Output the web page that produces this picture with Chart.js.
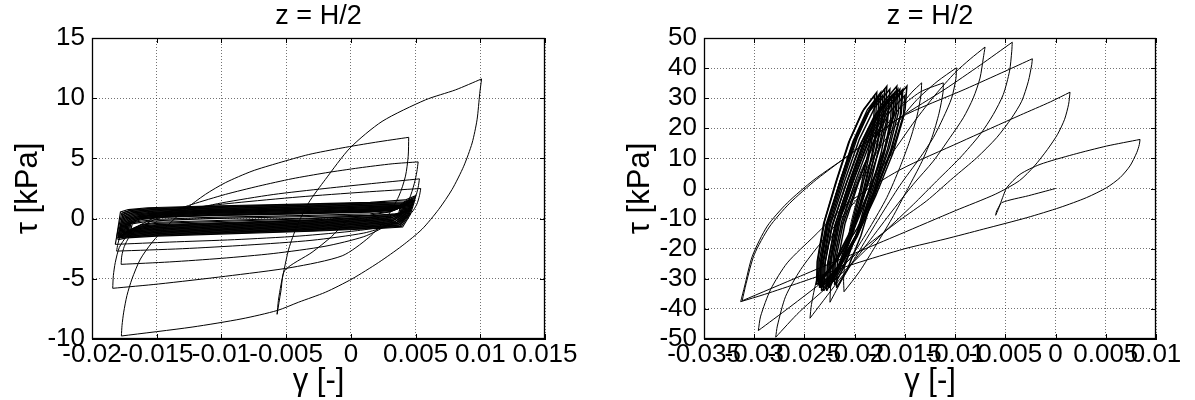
<!DOCTYPE html>
<html>
<head>
<meta charset="utf-8">
<script src="https://cdn.jsdelivr.net/npm/chart.js@4.4.1/dist/chart.umd.min.js"></script>
<style>
  body { margin: 0; background: #fff; }
  #wrap { position: relative; width: 1195px; height: 400px; }
  canvas { position: absolute; top: 0; }
</style>
</head>
<body>
<div id="wrap">
  <canvas id="left" width="612" height="400" style="left:0"></canvas>
  <canvas id="right" width="583" height="400" style="left:612px"></canvas>
</div>
<script>
// ---- axis ticks ----
var leftXTicks = [-0.02, -0.015, -0.01, -0.005, 0, 0.005, 0.01, 0.015];
var leftXLabels = ["-0.02", "-0.015", "-0.01", "-0.005", "0", "0.005", "0.01", "0.015"];
var leftYTicks = [-10, -5, 0, 5, 10, 15];
var leftYLabels = ["-10", "-5", "0", "5", "10", "15"];
var rightXTicks = [-0.035, -0.03, -0.025, -0.02, -0.015, -0.01, -0.005, 0, 0.005, 0.01];
var rightXLabels = ["-0.035", "-0.03", "-0.025", "-0.02", "-0.015", "-0.01", "-0.005", "0", "0.005", "0.01"];
var rightYTicks = [-50, -40, -30, -20, -10, 0, 10, 20, 30, 40, 50];
var rightYLabels = ["-50", "-40", "-30", "-20", "-10", "0", "10", "20", "30", "40", "50"];

// ---- left plot: [gamma, tau] ----
var leftStart = [[0,0],[-0.0005,-0.4],[-0.0015,-1.5],[-0.003,-2.8],[-0.0051,-4.3],[-0.0054,-6.0],[-0.0057,-7.95]];
var leftRise0 = [[-0.0057,-7.95],[-0.0056,-6.8],[-0.0054,-5.5],[-0.0052,-4.46],[-0.0048,-2.53],[-0.00416,-0.61],[-0.00326,1.32],[-0.00197,3.25],[-0.00006,5.87],[0.00241,8.07],[0.00576,9.86],[0.00808,10.69],[0.0101,11.6]];
var leftFall0 = [[0.0101,11.6],[0.00996,10.41],[0.00975,8.21],[0.00937,6.28],[0.00872,4.35],[0.00782,2.42],[0.00679,0.77],[0.0055,-0.88],[0.00396,-2.26],[0.00215,-3.64],[0.00009,-5.01],[-0.00197,-6.12],[-0.00403,-6.94],[-0.00568,-7.63],[-0.00841,-8.32],[-0.01227,-9.01],[-0.01773,-9.75]];
var leftRise1 = [[-0.01773,-9.75],[-0.01768,-8.87],[-0.01755,-7.77],[-0.0173,-6.39],[-0.01691,-5.01],[-0.01626,-3.36],[-0.01536,-1.98],[-0.0142,-0.61],[-0.01279,0.77],[-0.01124,2.01],[-0.0097,2.98],[-0.00764,3.94],[-0.00557,4.63],[-0.00326,5.32],[-0.00068,5.87],[0.0019,6.34],[0.00447,6.75]];
var leftFall1 = [[0.00447,6.75],[0.00443,5.18],[0.00422,3.53],[0.00371,1.87],[0.00268,-0.06],[0.00139,-1.57],[-0.00067,-3.09],[-0.00454,-4.05],[-0.00969,-4.79],[-0.01485,-5.43],[-0.0184,-5.79]];
var leftRise2 = [[-0.0184,-5.79],[-0.01835,-4.74],[-0.0182,-3.64],[-0.01789,-2.4],[-0.01729,-1.43],[-0.01639,-0.61],[-0.01485,0.22],[-0.01227,1.18],[-0.00969,2.01],[-0.00712,2.7],[-0.00454,3.31],[-0.00196,3.8],[0.00062,4.21],[0.00319,4.55],[0.0052,4.71]];
var leftFall2 = [[0.0052,4.71],[0.0051,3.9],[0.0049,2.9],[0.0045,1.6],[0.0038,0.4],[0.0027,-0.6],[0.001,-1.5],[-0.002,-2.3],[-0.006,-2.9],[-0.01,-3.3],[-0.014,-3.6],[-0.01775,-3.8]];
var leftRise3 = [[-0.01775,-3.8],[-0.0177,-3.1],[-0.0175,-2.3],[-0.0171,-1.5],[-0.0164,-0.8],[-0.0152,-0.1],[-0.013,0.6],[-0.01,1.3],[-0.006,2.0],[-0.002,2.5],[0.002,2.95],[0.0053,3.3]];
var leftFall3 = [[0.0053,3.3],[0.0052,2.6],[0.005,1.8],[0.0046,0.9],[0.0039,0.1],[0.0028,-0.6],[0.001,-1.2],[-0.003,-1.8],[-0.008,-2.2],[-0.013,-2.5],[-0.0181,-2.7]];
var leftRise4 = [[-0.0181,-2.7],[-0.018,-2.1],[-0.0178,-1.4],[-0.0174,-0.8],[-0.0167,-0.2],[-0.0155,0.3],[-0.013,0.8],[-0.009,1.3],[-0.004,1.8],[0.001,2.2],[0.0054,2.5]];
var leftFall4 = [[0.0054,2.5],[0.0053,1.9],[0.0051,1.2],[0.0047,0.5],[0.004,-0.1],[0.0028,-0.6],[0.0005,-1.0],[-0.004,-1.45],[-0.009,-1.75],[-0.014,-1.95],[-0.0182,-2.14]];
// dense band of small cycles (one full cycle per array)
var leftBand1 = [[-0.0182,-2.14],[-0.0181,-1.54],[-0.0178,0.55],[-0.0172,0.75],[-0.0157,0.9],[-0.011,1.05],[-0.004,1.2],[0.0015,1.35],[0.0042,1.55],[0.005,1.9],[0.0049,1.4],[0.0046,0.35],[0.004,-0.7],[0.0025,-0.8],[-0.003,-1.05],[-0.009,-1.25],[-0.015,-1.45],[-0.0173,-1.6],[-0.018,-1.75]];
var leftBand2 = [[-0.018,-1.75],[-0.0179,-1.15],[-0.0176,0.5],[-0.017,0.7],[-0.0155,0.85],[-0.011,1.0],[-0.004,1.15],[0.0015,1.3],[0.0041,1.4],[0.0049,1.75],[0.0048,1.25],[0.0045,0.3],[0.0039,-0.65],[0.0024,-0.75],[-0.003,-1.0],[-0.009,-1.2],[-0.015,-1.4],[-0.0174,-1.55],[-0.0181,-1.6]];
var leftBand3 = [[-0.0181,-1.6],[-0.018,-1.0],[-0.0177,0.45],[-0.0171,0.65],[-0.0156,0.8],[-0.011,0.95],[-0.004,1.1],[0.0015,1.25],[0.004,1.3],[0.0048,1.65],[0.0047,1.15],[0.0044,0.28],[0.0038,-0.6],[0.0023,-0.7],[-0.003,-0.95],[-0.009,-1.15],[-0.015,-1.35],[-0.0172,-1.5],[-0.0179,-1.55]];
var leftBand4 = [[-0.0179,-1.55],[-0.0178,-0.95],[-0.0175,0.4],[-0.0169,0.6],[-0.0154,0.75],[-0.011,0.9],[-0.004,1.05],[0.0015,1.2],[0.0039,1.25],[0.0047,1.55],[0.0046,1.05],[0.0043,0.25],[0.0037,-0.55],[0.0022,-0.65],[-0.003,-0.9],[-0.009,-1.1],[-0.015,-1.3],[-0.0173,-1.45],[-0.018,-1.5]];
var leftBand5 = [[-0.018,-1.5],[-0.0179,-0.9],[-0.0176,0.35],[-0.017,0.55],[-0.0155,0.7],[-0.011,0.85],[-0.004,1.0],[0.0015,1.15],[0.004,1.2],[0.0048,1.5],[0.0047,1.0],[0.0044,0.25],[0.0038,-0.5],[0.0023,-0.6],[-0.003,-0.85],[-0.009,-1.05],[-0.015,-1.25],[-0.0171,-1.4],[-0.0178,-1.45]];
var leftBand6 = [[-0.0178,-1.45],[-0.0177,-0.85],[-0.0174,0.3],[-0.0168,0.5],[-0.0153,0.65],[-0.011,0.8],[-0.004,0.95],[0.0015,1.1],[0.0038,1.15],[0.0046,1.45],[0.0045,0.95],[0.0042,0.25],[0.0036,-0.45],[0.0021,-0.55],[-0.003,-0.8],[-0.009,-1.0],[-0.015,-1.2],[-0.0172,-1.35],[-0.0179,-1.42]];
var leftBand7 = [[-0.0179,-1.42],[-0.0178,-0.82],[-0.0175,0.25],[-0.0169,0.45],[-0.0154,0.6],[-0.011,0.75],[-0.004,0.9],[0.0015,1.05],[0.0039,1.1],[0.0047,1.4],[0.0046,0.9],[0.0043,0.25],[0.0037,-0.4],[0.0022,-0.5],[-0.003,-0.75],[-0.009,-0.95],[-0.015,-1.15],[-0.017,-1.3],[-0.0177,-1.38]];
var leftBand8 = [[-0.0177,-1.38],[-0.0176,-0.78],[-0.0173,0.2],[-0.0167,0.4],[-0.0152,0.55],[-0.011,0.7],[-0.004,0.85],[0.0015,1.0],[0.0037,1.06],[0.0045,1.36],[0.0044,0.86],[0.0041,0.25],[0.0035,-0.35],[0.002,-0.45],[-0.003,-0.7],[-0.009,-0.9],[-0.015,-1.1],[-0.0171,-1.25],[-0.0178,-1.35]];
var leftBand9 = [[-0.0178,-1.35],[-0.0177,-0.75],[-0.0174,0.16],[-0.0168,0.36],[-0.0153,0.51],[-0.011,0.66],[-0.004,0.81],[0.0015,0.96],[0.0038,1.02],[0.0046,1.32],[0.0045,0.82],[0.0042,0.26],[0.0036,-0.3],[0.0021,-0.4],[-0.003,-0.65],[-0.009,-0.85],[-0.015,-1.05],[-0.0169,-1.2],[-0.0176,-1.32]];
var leftBand10 = [[-0.0176,-1.32],[-0.0175,-0.72],[-0.0172,0.12],[-0.0166,0.32],[-0.0151,0.47],[-0.011,0.62],[-0.004,0.77],[0.0015,0.92],[0.0036,0.95],[0.0044,1.28],[0.0043,0.78],[0.004,0.27],[0.0034,-0.25],[0.0019,-0.35],[-0.003,-0.6],[-0.009,-0.8],[-0.015,-1.0],[-0.017,-1.15],[-0.0177,-1.28]];
var leftBand11 = [[-0.0177,-1.28],[-0.0176,-0.68],[-0.0173,0.08],[-0.0167,0.28],[-0.0152,0.43],[-0.011,0.58],[-0.004,0.73],[0.0015,0.88],[0.0037,0.93],[0.0045,1.25],[0.0044,0.75],[0.0041,0.28],[0.0035,-0.2],[0.002,-0.3],[-0.003,-0.55],[-0.009,-0.75],[-0.015,-0.95],[-0.0168,-1.1],[-0.0175,-1.25]];
var leftBand12 = [[-0.0175,-1.25],[-0.0174,-0.65],[-0.0171,0.04],[-0.0165,0.24],[-0.015,0.39],[-0.011,0.54],[-0.004,0.69],[0.0015,0.84],[0.0035,0.9],[0.0043,1.22],[0.0042,0.72],[0.0039,0.29],[0.0033,-0.15],[0.0018,-0.25],[-0.003,-0.5],[-0.009,-0.7],[-0.015,-0.9],[-0.0169,-1.05],[-0.0176,-1.22]];
var leftBand13 = [[-0.0176,-1.22],[-0.0175,-0.62],[-0.0172,0.0],[-0.0166,0.2],[-0.0151,0.35],[-0.011,0.5],[-0.004,0.65],[0.0015,0.8],[0.0036,0.87],[0.0044,1.19],[0.0043,0.69],[0.004,0.3],[0.0034,-0.1],[0.0019,-0.2],[-0.003,-0.45],[-0.009,-0.65],[-0.015,-0.85],[-0.0167,-1.0],[-0.0174,-1.19]];
var leftBand14 = [[-0.0174,-1.19],[-0.0173,-0.59],[-0.017,-0.04],[-0.0164,0.16],[-0.0149,0.31],[-0.011,0.46],[-0.004,0.61],[0.0015,0.76],[0.0034,0.84],[0.0042,1.16],[0.0041,0.66],[0.0038,0.3],[0.0032,-0.05],[0.0017,-0.15],[-0.003,-0.4],[-0.009,-0.6],[-0.015,-0.8],[-0.0168,-0.95],[-0.0175,-1.16]];
var leftBand15 = [[-0.0175,-1.16],[-0.0174,-0.56],[-0.0171,-0.08],[-0.0165,0.12],[-0.015,0.27],[-0.011,0.42],[-0.004,0.57],[0.0015,0.72],[0.0035,0.8],[0.0043,1.13],[0.0042,0.63],[0.0039,0.32],[0.0033,0.0],[0.0018,-0.1],[-0.003,-0.35],[-0.009,-0.55],[-0.015,-0.75],[-0.0166,-0.9],[-0.0173,-1.13]];
var leftBand16 = [[-0.0173,-1.13],[-0.0172,-0.53],[-0.0169,-0.12],[-0.0163,0.08],[-0.0148,0.23],[-0.011,0.38],[-0.004,0.53],[0.0015,0.68],[0.0033,0.78],[0.0041,1.1],[0.004,0.6],[0.0037,0.33],[0.0031,0.05],[0.0016,-0.05],[-0.003,-0.3],[-0.009,-0.5],[-0.015,-0.7],[-0.0167,-0.85],[-0.0174,-1.1]];
var leftBand17 = [[-0.0174,-1.1],[-0.0173,-0.5],[-0.017,-0.16],[-0.0164,0.04],[-0.0149,0.19],[-0.011,0.34],[-0.004,0.49],[0.0015,0.64],[0.0034,0.74],[0.0042,1.07],[0.0041,0.57],[0.0038,0.34],[0.0032,0.1],[0.0017,0.0],[-0.003,-0.25],[-0.009,-0.45],[-0.015,-0.65],[-0.0165,-0.8],[-0.0172,-1.07]];
var leftBand18 = [[-0.0172,-1.07],[-0.0171,-0.47],[-0.0168,-0.2],[-0.0162,0.0],[-0.0147,0.15],[-0.011,0.3],[-0.004,0.45],[0.0015,0.6],[0.0032,0.72],[0.004,1.04],[0.0039,0.54],[0.0036,0.35],[0.003,0.15],[0.0015,0.05],[-0.003,-0.2],[-0.009,-0.4],[-0.015,-0.6],[-0.0166,-0.75],[-0.0173,-1.04]];
var leftBand19 = [[-0.0173,-1.04],[-0.0172,-0.44],[-0.0169,-0.23],[-0.0163,-0.03],[-0.0148,0.12],[-0.011,0.27],[-0.004,0.42],[0.0015,0.57],[0.0033,0.7],[0.0041,1.02],[0.004,0.52],[0.0037,0.36],[0.0031,0.2],[0.0016,0.1],[-0.003,-0.15],[-0.009,-0.35],[-0.015,-0.55],[-0.0164,-0.7],[-0.0171,-1.02]];
var leftBand20 = [[-0.0171,-1.02],[-0.017,-0.42],[-0.0167,-0.26],[-0.0161,-0.06],[-0.0146,0.09],[-0.011,0.24],[-0.004,0.39],[0.0015,0.54],[0.0032,0.68],[0.004,1.0],[0.0039,0.5],[0.0036,0.38],[0.003,0.25],[0.0015,0.15],[-0.003,-0.1],[-0.009,-0.3],[-0.015,-0.5],[-0.0165,-0.65],[-0.0172,-1.0]];
var leftBand21 = [[-0.0172,-1.0],[-0.0171,-0.45],[-0.0168,-0.33],[-0.0162,-0.2],[-0.0147,-0.05],[-0.011,0.1],[-0.004,0.25],[0.0015,0.4],[0.0031,0.6],[0.0039,0.95],[0.0038,0.45],[0.0035,0.4],[0.0029,0.35],[0.0014,0.25],[-0.003,0.0],[-0.009,-0.2],[-0.015,-0.4],[-0.0163,-0.55],[-0.017,-0.98]];
var leftBand22 = [[-0.017,-0.98],[-0.0169,-0.45],[-0.0166,-0.38],[-0.016,-0.28],[-0.0145,-0.15],[-0.011,0.0],[-0.004,0.15],[0.0015,0.3],[0.003,0.55],[0.0038,0.9],[0.0037,0.45],[0.0034,0.38],[0.0028,0.3],[0.0013,0.22],[-0.003,0.05],[-0.009,-0.12],[-0.015,-0.3],[-0.0162,-0.5],[-0.0169,-0.95]];

// ---- right plot: [gamma, tau] ----
var rightStart = [[0,0],[-0.0027,-2.4],[-0.00536,-4.7],[-0.0057,-6.9],[-0.00596,-8.9],[-0.0059,-7.8],[-0.0057,-6.4],[-0.00553,-5.3],[-0.0052,-2.4],[-0.00486,0.3],[-0.00354,4.7],[-0.00155,8.0],[0.00177,11.3],[0.00509,14.1],[0.00841,16.3]];
var rightFall0 = [[0.00841,16.3],[0.00834,14.6],[0.00808,11.9],[0.00741,7.5],[0.00642,3.6],[0.00509,0.3],[0.0031,-3.0],[0.00044,-6.3],[-0.00287,-9.7],[-0.00719,-13.5],[-0.011,-16.8],[-0.015,-20.0],[-0.02,-25.0],[-0.0254,-31.2],[-0.029,-35.2],[-0.03135,-37.6]];
var rightRise1 = [[-0.03135,-37.6],[-0.03095,-32.4],[-0.03019,-22.5],[-0.0287,-12.5],[-0.02671,-4.8],[-0.02405,2.9],[-0.02024,11.8],[-0.0155,23.5],[-0.009,33.0],[-0.005,39.0],[-0.00231,43.1]];
var rightFall1 = [[-0.00231,43.1],[-0.00237,41.2],[-0.00271,35.6],[-0.00337,29.0],[-0.00436,23.5],[-0.00586,16.9],[-0.00785,10.2],[-0.01018,3.6],[-0.01283,-4.1],[-0.0155,-10.5],[-0.019,-19.5],[-0.023,-30.5],[-0.0265,-39.5],[-0.02959,-47.2]];
var rightRise2 = [[-0.02959,-47.2],[-0.02936,-42.4],[-0.02836,-33.5],[-0.02671,-24.7],[-0.02405,-15.9],[-0.02047,-4.4],[-0.01549,6.2],[-0.0095,15.4],[-0.0035,24.4],[-0.0005,28.8],[0.00144,32.0]];
var rightFall2 = [[0.00144,32.0],[0.0013,28.0],[0.0009,23.0],[0.0002,18.0],[-0.0008,13.0],[-0.0021,7.5],[-0.0036,2.6],[-0.006,-1.9],[-0.01,-7.4],[-0.0155,-15.2],[-0.0254,-29.1],[-0.0312,-37.3]];
var rightRise3 = [[-0.0312,-37.3],[-0.0308,-31.5],[-0.03,-22.0],[-0.0285,-12.8],[-0.0265,-5.0],[-0.0238,3.0],[-0.02,12.5],[-0.0155,23.5],[-0.011,33.0],[-0.0075,41.0],[-0.00431,48.6]];
var rightFall3 = [[-0.00431,48.6],[-0.00436,45.6],[-0.00458,39.0],[-0.00521,31.2],[-0.0062,24.6],[-0.00752,17.9],[-0.00951,10.2],[-0.01183,2.5],[-0.01416,-5.3],[-0.018,-17.5],[-0.022,-30.5],[-0.0255,-41.0],[-0.02786,-49.4]];
var rightRise4 = [[-0.02786,-49.4],[-0.0277,-45.7],[-0.02687,-35.8],[-0.02537,-26.9],[-0.02338,-18.1],[-0.021,-8.5],[-0.0183,2.5],[-0.016,13.0],[-0.014,22.5],[-0.012,31.0],[-0.01,38.5],[-0.0085,43.0],[-0.00702,47.0]];
var rightFall4 = [[-0.00702,47.0],[-0.00719,43.4],[-0.00752,36.7],[-0.00819,30.1],[-0.00918,23.5],[-0.01051,16.9],[-0.01217,9.1],[-0.01416,1.4],[-0.0165,-8.5],[-0.019,-19.5],[-0.0218,-31.5],[-0.02445,-43.1]];
var rightRise5 = [[-0.02445,-43.1],[-0.0243,-38.5],[-0.0238,-30.5],[-0.0229,-21.0],[-0.0215,-10.0],[-0.0198,1.0],[-0.0178,12.0],[-0.0158,21.5],[-0.0138,29.5],[-0.0118,35.5],[-0.00988,40.1]];
var rightFall5 = [[-0.00988,40.1],[-0.00991,36.7],[-0.01034,30.1],[-0.01118,23.5],[-0.01217,16.9],[-0.0135,10.2],[-0.0155,1.0],[-0.0175,-9.5],[-0.0195,-20.5],[-0.0212,-30.0],[-0.02246,-37.8]];
var rightRise6 = [[-0.02246,-37.8],[-0.0224,-33.0],[-0.0221,-25.0],[-0.0215,-15.0],[-0.0205,-4.0],[-0.0192,7.0],[-0.0176,17.0],[-0.0157,26.0],[-0.0135,32.0],[-0.01118,35.1]];
var rightFall6 = [[-0.01118,35.1],[-0.0112,32.0],[-0.0116,25.0],[-0.0123,17.0],[-0.0133,9.0],[-0.0147,0.0],[-0.0163,-10.0],[-0.018,-19.5],[-0.0195,-27.5],[-0.02106,-34.3]];
var rightRise7 = [[-0.02106,-34.3],[-0.0211,-30.0],[-0.0209,-22.0],[-0.0204,-12.0],[-0.0196,-2.0],[-0.0185,8.0],[-0.0171,18.0],[-0.0155,27.0],[-0.0143,32.0],[-0.01333,35.1]];
var rightFall7 = [[-0.01333,35.1],[-0.0134,31.0],[-0.0138,24.0],[-0.0145,16.0],[-0.0155,7.0],[-0.0168,-3.0],[-0.0185,-13.0],[-0.0202,-22.0],[-0.0218,-28.5],[-0.0232,-33.0]];
// dense cluster of steady cycles (one full cycle per array)
var rightLoop1 = [[-0.0232,-33],[-0.02313,-25.1],[-0.0224,-11.9],[-0.02099,2.6],[-0.01952,16.5],[-0.01797,27.1],[-0.0165,33],[-0.01664,25.2],[-0.01749,13.5],[-0.01891,-0.8],[-0.02048,-14.45],[-0.02218,-25.5],[-0.0236,-32]];
var rightLoop2 = [[-0.0236,-32],[-0.02354,-24.4],[-0.02283,-11.8],[-0.02149,2.0],[-0.02008,15.25],[-0.01861,25.3],[-0.0172,31],[-0.01731,23.2],[-0.01798,11.5],[-0.0191,-2.8],[-0.02034,-16.45],[-0.02168,-27.5],[-0.0228,-34]];
var rightLoop3 = [[-0.0228,-34],[-0.02273,-25.8],[-0.02196,-12.2],[-0.02049,2.7],[-0.01895,17],[-0.01734,27.9],[-0.0158,34],[-0.01595,26.2],[-0.01686,14.5],[-0.01838,0.2],[-0.02006,-13.45],[-0.02188,-24.5],[-0.0234,-31]];
var rightLoop4 = [[-0.0234,-31],[-0.02334,-23.7],[-0.0227,-11.5],[-0.02149,1.9],[-0.02021,14.75],[-0.01888,24.5],[-0.0176,30],[-0.0177,22.4],[-0.0183,11.1],[-0.0193,-2.8],[-0.0204,-16.0],[-0.0216,-26.7],[-0.0226,-33]];
var rightLoop5 = [[-0.0226,-33],[-0.02253,-25.2],[-0.02181,-12.2],[-0.02042,2.1],[-0.01897,15.75],[-0.01745,26.15],[-0.016,32],[-0.01616,24.3],[-0.01709,12.8],[-0.01865,-1.3],[-0.02037,-14.7],[-0.02224,-25.6],[-0.0238,-32]];
var rightLoop6 = [[-0.0238,-32],[-0.02374,-24.4],[-0.0231,-11.8],[-0.02189,2.0],[-0.02061,15.25],[-0.01928,25.3],[-0.018,31],[-0.01809,23.6],[-0.01862,12.4],[-0.0195,-1.2],[-0.02046,-14.3],[-0.02152,-24.8],[-0.0224,-31]];
var rightLoop7 = [[-0.0224,-31],[-0.02233,-23.3],[-0.02154,-10.5],[-0.02002,3.6],[-0.01844,17],[-0.01678,27.2],[-0.0152,33],[-0.01536,25.0],[-0.01633,12.9],[-0.01795,-1.8],[-0.01974,-15.9],[-0.02168,-27.3],[-0.0233,-34]];
var rightLoop8 = [[-0.0233,-34],[-0.02324,-25.8],[-0.02252,-12.2],[-0.02116,2.7],[-0.01973,17],[-0.01823,27.9],[-0.0168,34],[-0.0169,26.1],[-0.01753,14.2],[-0.01857,-0.3],[-0.01971,-14.2],[-0.02096,-25.4],[-0.022,-32]];
var rightLoop9 = [[-0.022,-32],[-0.02193,-24.4],[-0.02116,-11.8],[-0.01969,2.0],[-0.01815,15.25],[-0.01654,25.3],[-0.015,31],[-0.01517,23.3],[-0.01619,11.8],[-0.01789,-2.3],[-0.01976,-15.7],[-0.0218,-26.6],[-0.0235,-33]];
var rightLoop10 = [[-0.0235,-33],[-0.02344,-25.2],[-0.02277,-12.2],[-0.02149,2.1],[-0.02015,15.75],[-0.01874,26.15],[-0.0174,32],[-0.0175,24.6],[-0.01807,13.4],[-0.01903,-0.2],[-0.02009,-13.3],[-0.02124,-23.8],[-0.0222,-30]];
var rightLoop11 = [[-0.0222,-30],[-0.02213,-22.4],[-0.0214,-9.8],[-0.01999,4.0],[-0.01852,17.25],[-0.01697,27.3],[-0.0155,33],[-0.01565,25.2],[-0.01655,13.5],[-0.01805,-0.8],[-0.0197,-14.45],[-0.0215,-25.5],[-0.023,-32]];
var rightLoop12 = [[-0.023,-32],[-0.02293,-24.4],[-0.0222,-11.8],[-0.02079,2.0],[-0.01932,15.25],[-0.01777,25.3],[-0.0163,31],[-0.01641,23.3],[-0.01707,11.8],[-0.01817,-2.3],[-0.01938,-15.7],[-0.0207,-26.6],[-0.0218,-33]];
var rightLoop13 = [[-0.0218,-33],[-0.02173,-25.0],[-0.02096,-11.6],[-0.01949,3.2],[-0.01795,17.25],[-0.01634,28.0],[-0.0148,34],[-0.01498,26.2],[-0.01605,14.5],[-0.01783,0.2],[-0.01978,-13.45],[-0.02192,-24.5],[-0.0237,-31]];
var rightLoop14 = [[-0.0237,-31],[-0.02364,-23.4],[-0.02299,-10.8],[-0.02175,3.0],[-0.02046,16.25],[-0.0191,26.3],[-0.0178,32],[-0.01789,24.2],[-0.01846,12.5],[-0.0194,-1.8],[-0.02043,-15.45],[-0.02156,-26.5],[-0.0225,-33]];
var rightLoop15 = [[-0.0225,-33],[-0.02243,-25.1],[-0.02168,-11.9],[-0.02026,2.6],[-0.01876,16.5],[-0.0172,27.1],[-0.0157,33],[-0.01585,25.0],[-0.01674,12.9],[-0.01822,-1.8],[-0.01984,-15.9],[-0.02162,-27.3],[-0.0231,-34]];
var rightLoop16 = [[-0.0231,-34],[-0.02304,-26.3],[-0.02232,-13.5],[-0.02096,0.6],[-0.01953,14],[-0.01803,24.2],[-0.0166,30],[-0.01671,22.7],[-0.01737,11.7],[-0.01847,-1.7],[-0.01968,-14.5],[-0.021,-24.9],[-0.0221,-31]];
var rightLoop17 = [[-0.0221,-31],[-0.02203,-23.4],[-0.02128,-10.8],[-0.01986,3.0],[-0.01836,16.25],[-0.0168,26.3],[-0.0153,32],[-0.01546,24.2],[-0.01643,12.5],[-0.01805,-1.8],[-0.01984,-15.45],[-0.02178,-26.5],[-0.0234,-33]];
var rightLoop18 = [[-0.0234,-33],[-0.02334,-25.1],[-0.02263,-11.9],[-0.02129,2.6],[-0.01988,16.5],[-0.01841,27.1],[-0.017,33],[-0.01711,25.2],[-0.0178,13.5],[-0.01894,-0.8],[-0.02019,-14.45],[-0.02156,-25.5],[-0.0227,-32]];
var rightLoop19 = [[-0.0227,-32],[-0.02263,-24.4],[-0.02191,-11.8],[-0.02052,2.0],[-0.01907,15.25],[-0.01755,25.3],[-0.0161,31],[-0.01624,23.3],[-0.01705,11.8],[-0.01841,-2.3],[-0.01991,-15.7],[-0.02154,-26.6],[-0.0229,-33]];

// smooth single branches vs. closed cycles (cycles keep sharp tips)
var leftCurves = [leftStart, leftRise0, leftFall0, leftRise1, leftFall1, leftRise2, leftFall2,
  leftRise3, leftFall3, leftRise4, leftFall4];
var leftLoops = [leftBand1, leftBand2, leftBand3, leftBand4, leftBand5, leftBand6, leftBand7,
  leftBand8, leftBand9, leftBand10, leftBand11, leftBand12, leftBand13, leftBand14,
  leftBand15, leftBand16, leftBand17, leftBand18, leftBand19, leftBand20, leftBand21, leftBand22];
var rightCurves = [rightStart, rightFall0, rightRise1, rightFall1, rightRise2, rightFall2, rightRise3,
  rightFall3, rightRise4, rightFall4, rightRise5, rightFall5, rightRise6, rightFall6, rightRise7, rightFall7];
var rightLoops = [rightLoop1, rightLoop2, rightLoop3, rightLoop4, rightLoop5, rightLoop6,
  rightLoop7, rightLoop8, rightLoop9, rightLoop10, rightLoop11, rightLoop12, rightLoop13,
  rightLoop14, rightLoop15, rightLoop16, rightLoop17, rightLoop18, rightLoop19];

var FONT = "'Liberation Sans', Arial, Helvetica, sans-serif";

// frame round the plot with small inward ticks, like the original figure
var boxPlugin = {
  id: "box",
  afterDraw: function (chart) {
    var ctx = chart.ctx, a = chart.chartArea, sx = chart.scales.x, sy = chart.scales.y;
    ctx.save();
    ctx.strokeStyle = "#000";
    ctx.lineWidth = 1;
    ctx.beginPath();
    sx.ticks.forEach(function (t) {
      var px = Math.round(sx.getPixelForValue(t.value)) + 0.5;
      ctx.moveTo(px, a.bottom); ctx.lineTo(px, a.bottom - 5);
      ctx.moveTo(px, a.top); ctx.lineTo(px, a.top + 5);
    });
    sy.ticks.forEach(function (t) {
      var py = Math.round(sy.getPixelForValue(t.value)) + 0.5;
      ctx.moveTo(a.left, py); ctx.lineTo(a.left + 5, py);
      ctx.moveTo(a.right, py); ctx.lineTo(a.right - 5, py);
    });
    ctx.stroke();
    ctx.lineWidth = 1.3;
    ctx.strokeRect(Math.round(a.left) + 0.5, Math.round(a.top) + 0.5,
      Math.round(a.right - a.left) - 1, Math.round(a.bottom - a.top) - 1);
    ctx.restore();
  }
};

function toSet(p, tension, width) {
  return {
    data: p.map(function (q) { return { x: q[0], y: q[1] }; }),
    showLine: true,
    borderColor: "#000",
    borderWidth: width,
    pointRadius: 0,
    tension: tension,
    fill: false
  };
}

function makeChart(id, curves, loops, loopWidth, xMin, xMax, xTicks, xLabels, yMin, yMax, yTicks, yLabels, padRight) {
  var datasets = curves.map(function (p) { return toSet(p, 0.25, 1); })
    .concat(loops.map(function (p) { return toSet(p, 0, loopWidth); }));
  return new Chart(document.getElementById(id), {
    type: "scatter",
    data: { datasets: datasets },
    options: {
      responsive: false,
      animation: false,
      devicePixelRatio: 1,
      events: [],
      layout: { padding: { left: 0, right: padRight, top: 0, bottom: 0 } },
      plugins: {
        legend: { display: false },
        tooltip: { enabled: false },
        title: {
          display: true,
          text: "z = H/2",
          color: "#000",
          fullSize: false,
          font: { family: FONT, size: 27, weight: "normal" },
          padding: { top: 0, bottom: 5.6 }
        }
      },
      scales: {
        x: {
          type: "linear",
          min: xMin,
          max: xMax,
          afterBuildTicks: function (s) { s.ticks = xTicks.map(function (v) { return { value: v }; }); },
          afterFit: function (s) { s.height = 61; },
          ticks: {
            autoSkip: false, maxRotation: 0, minRotation: 0, padding: 0,
            color: "#000", font: { family: FONT, size: 26 },
            callback: function (v, i) { return xLabels[i]; }
          },
          grid: { color: "rgba(0,0,0,0.55)", drawTicks: false },
          border: { display: true, color: "#000", dash: [1, 2] },
          title: {
            display: true, text: "γ [-]", color: "#000",
            font: { family: FONT, size: 31 }, padding: { top: 0, bottom: 0 }
          }
        },
        y: {
          type: "linear",
          min: yMin,
          max: yMax,
          afterBuildTicks: function (s) { s.ticks = yTicks.map(function (v) { return { value: v }; }); },
          afterFit: function (s) { s.width = 92; },
          ticks: {
            autoSkip: false, padding: 7,
            color: "#000", font: { family: FONT, size: 26 },
            callback: function (v, i) { return yLabels[i]; }
          },
          grid: { color: "rgba(0,0,0,0.55)", drawTicks: false },
          border: { display: true, color: "#000", dash: [1, 2] },
          title: {
            display: true, text: "τ [kPa]", color: "#000",
            font: { family: FONT, size: 31 }, padding: { top: 10, bottom: 0 }
          }
        }
      }
    },
    plugins: [boxPlugin]
  });
}

makeChart("left", leftCurves, leftLoops, 1.15, -0.02, 0.015, leftXTicks, leftXLabels, -10, 15, leftYTicks, leftYLabels, 67);
makeChart("right", rightCurves, rightLoops, 1.45, -0.035, 0.01, rightXTicks, rightXLabels, -50, 50, rightYTicks, rightYLabels, 39);
</script>
</body>
</html>
